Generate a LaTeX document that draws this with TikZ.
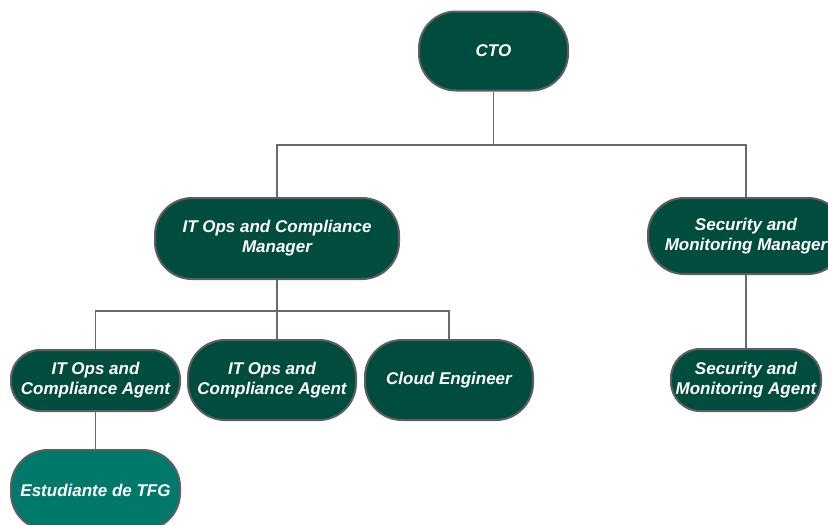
\documentclass[tikz,border=0pt]{standalone}
\usepackage{fontspec}
\setmainfont{Liberation Sans}
\definecolor{boxdark}{HTML}{004D40}
\definecolor{boxlight}{HTML}{00796B}
\definecolor{edgegray}{HTML}{5E5E5E}
\definecolor{linegray}{HTML}{6A6A6A}
\tikzset{
  role/.style={draw=edgegray, line width=2pt, fill=boxdark, rounded corners=37pt,
    text=white, align=center, inner sep=0pt,
    font=\fontsize{17}{20}\selectfont\bfseries\itshape},
  conn/.style={draw=linegray, line width=1.4pt}
}
\begin{document}
\begin{tikzpicture}[x=1pt, y=-1pt]
\useasboundingbox (0,0) rectangle (828,525);
\clip (0,0) rectangle (828,525);

% roles
\node[role, minimum width=149pt, minimum height=79pt] (cto) at (493.5,51) {CTO};
\node[role, minimum width=244pt, minimum height=81pt] (itmgr) at (277,238.5) {IT Ops and Compliance\\Manager};
\node[role, minimum width=196pt, minimum height=76pt, rounded corners=36pt] (secmgr) at (746,236) {Security and\\Monitoring Manager};
\node[role, minimum width=169pt, minimum height=61pt, rounded corners=29pt] (agentA) at (95.5,380.5) {IT Ops and\\Compliance Agent};
\node[role, minimum width=168pt, minimum height=80pt] (agentB) at (272,380) {IT Ops and\\Compliance Agent};
\node[role, minimum width=168pt, minimum height=80pt] (cloud) at (449,380) {Cloud Engineer};
\node[role, minimum width=150pt, minimum height=62pt, rounded corners=29pt] (secagent) at (746,380) {Security and\\Monitoring Agent};
\node[role, fill=boxlight, minimum width=169pt, minimum height=80pt] (student) at (95.5,490) {Estudiante de TFG};

% bus heights
\coordinate (busTop) at (0,145);
\coordinate (busMid) at (0,311);

% connectors
\draw[conn] (cto.south) -- (cto.south |- busTop) -| (itmgr.north);
\draw[conn] (cto.south |- busTop) -| (secmgr.north);
\draw[conn] (itmgr.south) -- (itmgr.south |- agentB.north);
\draw[conn] (itmgr.south |- busMid) -| (agentA.north);
\draw[conn] (itmgr.south |- busMid) -| (cloud.north);
\draw[conn] (secmgr.south) -- (secagent.north);
\draw[conn] (agentA.south) -- (student.north);
\end{tikzpicture}
\end{document}
